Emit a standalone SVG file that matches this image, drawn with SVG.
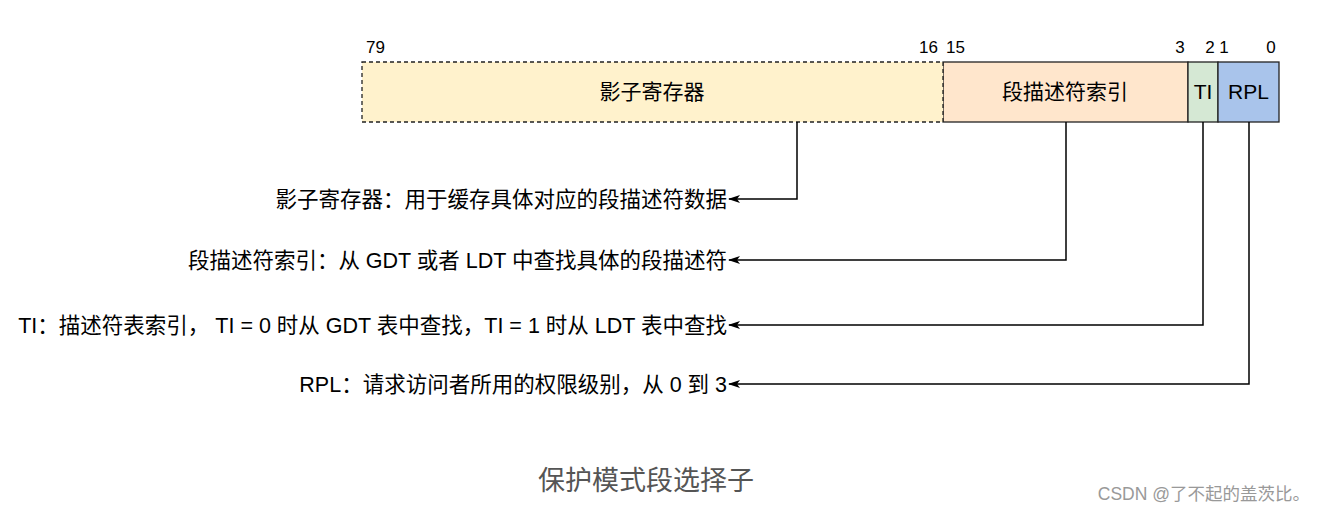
<svg xmlns="http://www.w3.org/2000/svg" width="1324" height="512" viewBox="0 0 1324 512">
<defs>
<style>
text{font-family:"Liberation Sans","Noto Sans CJK SC",sans-serif;fill:#000}
.num{font-size:17px}
.box{font-size:21px;text-anchor:middle}
.lbl{font-size:21.5px;text-anchor:end}
.cell{stroke:#222;stroke-width:1.3}
.conn{fill:none;stroke:#000;stroke-width:1.5}
</style>
<marker id="arr" viewBox="0 0 12 10" refX="11" refY="5" markerWidth="12" markerHeight="10" markerUnits="userSpaceOnUse" orient="auto">
<path d="M0,1 L12,5 L0,9 L3,5 Z" fill="#000"/>
</marker>
</defs>
<rect width="1324" height="512" fill="#fff"/>
<g id="bits">
<text class="num" x="366" y="53">79</text>
<text class="num" x="938" y="53" text-anchor="end">16</text>
<text class="num" x="946" y="53">15</text>
<text class="num" x="1180" y="53" text-anchor="middle">3</text>
<text class="num" x="1210" y="53" text-anchor="middle">2</text>
<text class="num" x="1224" y="53" text-anchor="middle">1</text>
<text class="num" x="1271" y="53" text-anchor="middle">0</text>
</g>
<g id="node-index">
<rect class="cell" x="943" y="62" width="245" height="60" fill="#ffe6cc"/>
<text class="box" x="1065" y="99">段描述符索引</text>
</g>
<g id="node-shadow">
<rect class="cell" x="362" y="62" width="581" height="60" fill="#fff2cc" stroke-dasharray="4 3"/>
<text class="box" x="652" y="99">影子寄存器</text>
</g>
<g id="node-ti">
<rect class="cell" x="1188" y="62" width="30" height="60" fill="#d5e8d4"/>
<text class="box" x="1203" y="99">TI</text>
</g>
<g id="node-rpl">
<rect class="cell" x="1218" y="62" width="61" height="60" fill="#a9c4eb"/>
<text class="box" x="1248.5" y="99">RPL</text>
</g>
<g id="connectors">
<path class="conn" d="M797,122 V199 H729" marker-end="url(#arr)"/>
<path class="conn" d="M1066,122 V260 H729" marker-end="url(#arr)"/>
<path class="conn" d="M1203,122 V325 H729" marker-end="url(#arr)"/>
<path class="conn" d="M1249,122 V384 H729" marker-end="url(#arr)"/>
</g>
<g id="labels">
<text class="lbl" x="727" y="207">影子寄存器：用于缓存具体对应的段描述符数据</text>
<text class="lbl" x="727" y="268">段描述符索引：从 GDT 或者 LDT 中查找具体的段描述符</text>
<text class="lbl" x="727" y="333">TI：描述符表索引， TI = 0 时从 GDT 表中查找，TI = 1 时从 LDT 表中查找</text>
<text class="lbl" x="727" y="392">RPL：请求访问者所用的权限级别，从 0 到 3</text>
</g>
<text x="646" y="490" font-size="27" text-anchor="middle" style="fill:#555">保护模式段选择子</text>
<text x="1310" y="500" font-size="17.5" text-anchor="end" style="fill:#999">CSDN @了不起的盖茨比。</text>
</svg>
